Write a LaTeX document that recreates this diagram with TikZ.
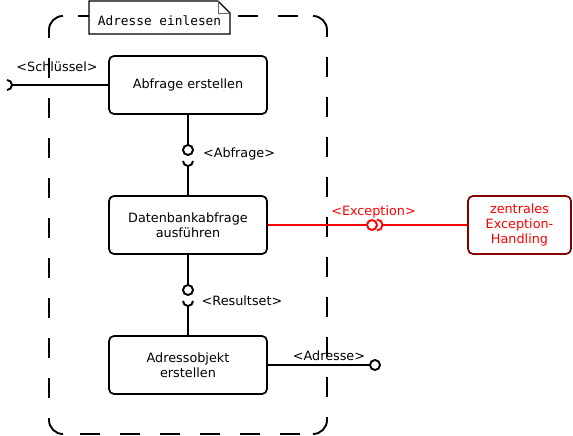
\documentclass[tikz,border=0pt]{standalone}
\usepackage{fontspec}
\setmainfont{DejaVu Sans}
\setmonofont{DejaVu Sans Mono}
\definecolor{dunkelrot}{RGB}{130,0,0}
\tikzset{
  schritt/.style={draw, rounded corners=5pt, line width=1.7pt, minimum width=158pt,
    minimum height=58pt, inner sep=0pt, align=center},
  verbinder/.style={line width=1.9pt},
  rahmen/.style={line width=1.9pt, dash pattern=on 20pt off 20pt},
  etikett/.style={anchor=base, inner sep=0pt},
}
\begin{document}
\begin{tikzpicture}[x=1pt,y=1pt,font=\fontsize{12.8}{15}\selectfont]
  \useasboundingbox (0,0) rectangle (573,436);
  % Rahmen: gestrichelte Seiten, runde Ecken
  \def\xL{49} \def\xR{327} \def\yO{420} \def\yU{2} \def\rF{14}
  \draw[rahmen, dash phase=25pt] (\xL+\rF,\yO) -- (\xR-\rF,\yO);
  \draw[rahmen, dash phase=23pt] (\xL+\rF,\yU) -- (\xR-\rF,\yU);
  \draw[rahmen, dash phase=12pt] (\xL,\yO-\rF) -- (\xL,\yU+\rF);
  \draw[rahmen, dash phase=13pt] (\xR,\yO-\rF) -- (\xR,\yU+\rF);
  \draw[line width=1.9pt] (\xL,\yO-\rF) arc[start angle=180,end angle=90,radius=\rF];
  \draw[line width=1.9pt] (\xR-\rF,\yO) arc[start angle=90,end angle=0,radius=\rF];
  \draw[line width=1.9pt] (\xL,\yU+\rF) arc[start angle=180,end angle=270,radius=\rF];
  \draw[line width=1.9pt] (\xR-\rF,\yU) arc[start angle=270,end angle=360,radius=\rF];
  % Notiz mit Eselsohr
  \filldraw[fill=white, line width=1.4pt] (89,402) -- (89,435) -- (218,435) -- (230,423) -- (230,402) -- cycle;
  \draw[line width=0.8pt, black!60] (218,435) |- (230,423);
  \node[etikett, font=\ttfamily\fontsize{12.8}{15}\selectfont] (notiz) at (159.5,410) {Adresse einlesen};

  % Schritte
  \node[schritt] (erstellen) at (188,351) {Abfrage erstellen};
  \node[schritt] (ausfuehren) at (188,211) {Datenbankabfrage\\ausführen};
  \node[schritt] (adressobjekt) at (188,71) {Adressobjekt\\erstellen};
  \node[schritt, draw=dunkelrot, text=red, minimum width=103pt] (handling) at (519.5,211)
    {zentrales\\Exception-\\Handling};

  % Schnittstellen
  \coordinate (schl) at (12,351);
  \draw[verbinder] (erstellen.west) -- (schl);
  \draw[verbinder] (schl) ++(-5,5) arc[start angle=90,end angle=-90,radius=5];
  \node[etikett] (schlLabel) at (57,364) {<Schlüssel>};

  \coordinate (kugelA) at (188,286);
  \coordinate (pfanneA) at (188,270);
  \draw[verbinder] (erstellen.south) -- ([yshift=5pt]kugelA);
  \draw[verbinder] (kugelA) circle[radius=5];
  \draw[verbinder] (pfanneA) ++(-5,5) arc[start angle=180,end angle=360,radius=5];
  \draw[verbinder] (pfanneA) -- (ausfuehren.north);
  \node[etikett] (abfrLabel) at (239,278) {<Abfrage>};

  \coordinate (kugelB) at (188,146);
  \coordinate (pfanneB) at (188,130);
  \draw[verbinder] (ausfuehren.south) -- ([yshift=5pt]kugelB);
  \draw[verbinder] (kugelB) circle[radius=5];
  \draw[verbinder] (pfanneB) ++(-5,5) arc[start angle=180,end angle=360,radius=5];
  \draw[verbinder] (pfanneB) -- (adressobjekt.north);
  \node[etikett] (resLabel) at (242,130.5) {<Resultset>};

  \coordinate (kugelE) at (372,211);
  \coordinate (pfanneE) at (382.5,211);
  \draw[verbinder, red] (ausfuehren.east) -- ([xshift=-5pt]kugelE);
  \draw[verbinder, red] (kugelE) circle[radius=5];
  \draw[verbinder, red] (pfanneE) ++(-5.5,5.5) arc[start angle=90,end angle=-90,radius=5.5];
  \draw[verbinder, red] (pfanneE) -- (handling.west);
  \node[etikett, text=red] (excLabel) at (373.5,220) {<Exception>};

  \coordinate (kugelR) at (375,71);
  \draw[verbinder] (adressobjekt.east) -- ([xshift=-5pt]kugelR);
  \draw[verbinder] (kugelR) circle[radius=5];
  \node[etikett] (adrLabel) at (329,75) {<Adresse>};
\end{tikzpicture}
\end{document}
